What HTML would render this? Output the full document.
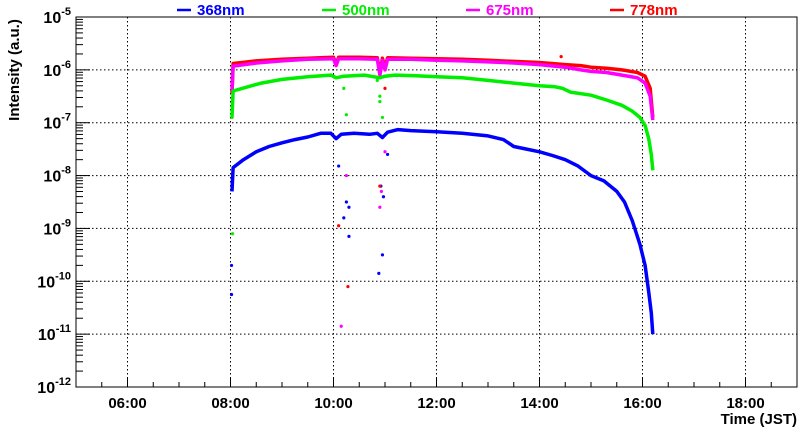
<!DOCTYPE html>
<html><head><meta charset="utf-8"><style>
body{margin:0;background:#fff;}
svg text{font-family:"Liberation Sans",sans-serif;font-weight:bold;}
</style></head><body>
<svg id="c" width="800" height="427" xmlns="http://www.w3.org/2000/svg"></svg>
<script>
const xTickLabels=["06:00","08:00","10:00","12:00","14:00","16:00","18:00"];
const xTickHours=[6,8,10,12,14,16,18];
const yTickExps=[-12,-11,-10,-9,-8,-7,-6,-5];
const seriesNames=["368nm","500nm","675nm","778nm"];
const seriesColors=["#0000ff","#00ee00","#ff00ff","#ff0000"];
const t368=[8.03,8.05,8.25,8.5,8.75,9,9.25,9.5,9.75,9.95,10.05,10.15,10.4,10.7,10.85,10.95,11.05,11.25,11.5,12,12.5,13,13.3,13.5,13.75,14,14.25,14.5,14.75,15,15.25,15.5,15.65,15.8,15.95,16.05,16.12,16.17,16.2];
const v368=[-8.3,-7.85,-7.7,-7.55,-7.45,-7.38,-7.32,-7.27,-7.2,-7.2,-7.3,-7.22,-7.2,-7.22,-7.2,-7.28,-7.18,-7.13,-7.15,-7.17,-7.2,-7.25,-7.32,-7.45,-7.5,-7.55,-7.62,-7.7,-7.82,-8.0,-8.1,-8.3,-8.5,-8.85,-9.3,-9.7,-10.2,-10.6,-11.0];
const t500=[8.03,8.05,8.3,8.6,9,9.5,9.95,10.05,10.2,10.6,10.9,11.0,11.2,11.6,12,12.5,13,13.5,14,14.3,14.45,14.6,15,15.3,15.6,15.8,15.95,16.05,16.12,16.17,16.2];
const v500=[-6.9,-6.4,-6.33,-6.25,-6.18,-6.13,-6.1,-6.15,-6.12,-6.1,-6.15,-6.12,-6.1,-6.11,-6.13,-6.15,-6.2,-6.25,-6.3,-6.32,-6.35,-6.42,-6.48,-6.57,-6.67,-6.78,-6.9,-7.05,-7.3,-7.6,-7.9];
const t675=[8.03,8.05,8.5,9,9.5,10,10.05,10.1,10.5,10.85,10.9,10.95,11.0,11.05,11.5,12,12.5,13,13.5,14,14.5,14.8,15,15.3,15.6,15.9,16.05,16.15,16.2];
const v675=[-6.4,-5.93,-5.87,-5.83,-5.8,-5.79,-5.92,-5.79,-5.79,-5.8,-6.1,-5.82,-6.0,-5.8,-5.8,-5.82,-5.83,-5.85,-5.87,-5.9,-5.95,-6.0,-6.03,-6.05,-6.1,-6.15,-6.25,-6.5,-6.95];
const t778=[8.03,8.05,8.5,9,9.5,10,10.05,10.1,10.5,10.85,10.9,10.95,11.0,11.05,11.5,12,12.5,13,13.5,14,14.5,14.8,15,15.3,15.6,15.9,16.05,16.15,16.2];
const v778=[-6.45,-5.88,-5.83,-5.8,-5.78,-5.76,-5.9,-5.76,-5.76,-5.77,-6.05,-5.78,-5.95,-5.77,-5.78,-5.79,-5.8,-5.82,-5.84,-5.86,-5.9,-5.92,-5.95,-5.97,-6.0,-6.05,-6.12,-6.35,-6.9];
const outT=[8.02,8.02,10.1,10.2,10.25,10.3,10.3,10.88,10.92,10.95,10.97,11.05,10.15,10.25,10.9,10.93,11.0,10.2,10.25,10.9,10.95,10.85,10.9,10.1,10.28,10.9,11.0,8.03,8.04,14.42];
const outV=[-10.25,-9.7,-7.82,-8.8,-8.5,-9.15,-8.6,-9.85,-8.2,-9.5,-8.4,-7.6,-10.85,-8.0,-8.6,-8.3,-7.55,-6.35,-6.85,-6.5,-6.9,-6.2,-6.6,-8.95,-10.1,-8.2,-6.35,-6.9,-9.1,-5.75];
const outS=[0,0,0,0,0,0,0,0,0,0,0,0,2,2,2,2,2,1,1,1,1,1,1,3,3,3,3,1,1,3];

const L=76,R=797,T=17,B=387,X0=5,X1=19,E0=-12,E1=-5;
const sx=h=>L+(h-X0)/(X1-X0)*(R-L);
const sy=e=>B-(e-E0)/(E1-E0)*(B-T);
const svg=document.getElementById('c');
const NS="http://www.w3.org/2000/svg";
function mk(tag,attrs,txt){const e=document.createElementNS(NS,tag);for(const k in attrs)e.setAttribute(k,attrs[k]);if(txt!==undefined)e.textContent=txt;svg.appendChild(e);return e;}

xTickHours.forEach(h=>{const g=mk('line',{x1:sx(h),x2:sx(h),y1:T,y2:B,stroke:'#000','stroke-width':1,'stroke-dasharray':'1.5,2.5'});

});
yTickExps.slice(1,-1).forEach(e=>{const g=mk('line',{x1:L,x2:R,y1:sy(e),y2:sy(e),stroke:'#000','stroke-width':1,'stroke-dasharray':'1.5,2.5'});

});

const TS=[t368,t500,t675,t778],VS=[v368,v500,v675,v778];
[3,2,1,0].forEach(i=>{
 const pts=TS[i].map((t,j)=>sx(t).toFixed(1)+','+sy(VS[i][j]).toFixed(1)).join(' ');
 const p=mk('polyline',{points:pts,fill:'none',stroke:seriesColors[i],'stroke-width':3.5,'stroke-linejoin':'round'});
 
 
});
outT.forEach((t,j)=>{const c=mk('circle',{cx:sx(t),cy:sy(outV[j]),r:1.6,fill:seriesColors[outS[j]]});

});

const f=mk('rect',{x:L,y:T,width:R-L,height:B-T,fill:'none',stroke:'#000','stroke-width':1});



for(let h=X0;h<=X1+0.001;h+=0.5){const maj=Math.abs(h-Math.round(h))<0.01&&Math.round(h)%2===0;
 const l=mk('line',{x1:sx(h),x2:sx(h),y1:B,y2:B-(maj?10:5),stroke:'#000'});
 
 }
xTickHours.forEach((h,i)=>{const t=mk('text',{x:sx(h),y:408,'text-anchor':'middle','font-size':15},xTickLabels[i]);

});

for(let e=E0;e<E1;e++){for(let m=1;m<10;m++){const y=sy(e+Math.log10(m));
 const l=mk('line',{x1:L,x2:L+(m===1?14:7),y1:y,y2:y,stroke:'#000'});
 
 }}
yTickExps.forEach(e=>{const t=mk('text',{x:sx(X0)-5,y:sy(e)+6,'text-anchor':'end','font-size':16});
 
 
 t.innerHTML='<tspan>10</tspan><tspan dy="-8" font-size="11">'+e+'</tspan>';});

const yt=mk('text',{x:0,y:0,transform:'translate(19,70) rotate(-90)','text-anchor':'middle','font-size':15},'Intensity (a.u.)');


const xt=mk('text',{x:797,y:424,'text-anchor':'end','font-size':15},'Time (JST)');



const legX=[177,322,466,610];
seriesNames.forEach((n,i)=>{
 const l=mk('line',{x1:legX[i],x2:legX[i]+14,y1:10,y2:10,stroke:seriesColors[i],'stroke-width':2.5});
 
 
 const t=mk('text',{x:legX[i]+20,y:15,'font-size':15,fill:seriesColors[i]},n);
 
 
});
</script>
</body></html>
